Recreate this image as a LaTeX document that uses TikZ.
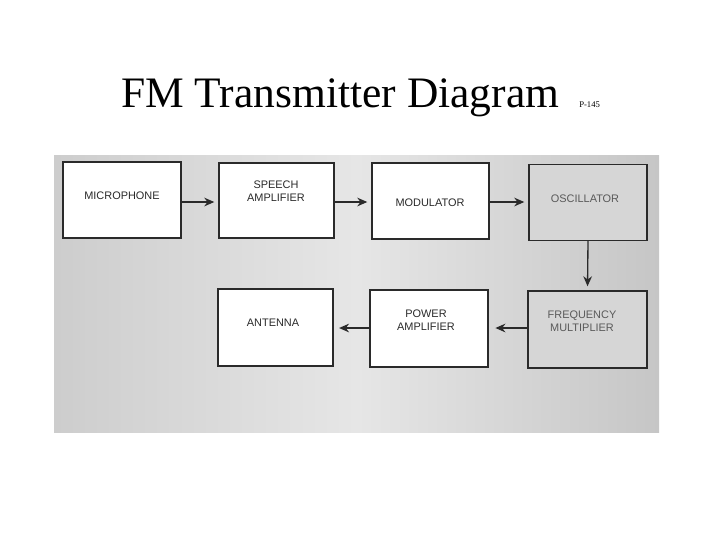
\documentclass[tikz,border=0pt]{standalone}
\usepackage{fontspec}
\setmainfont{Liberation Serif}
\newfontfamily\boxfont{Liberation Sans}
\usetikzlibrary{arrows.meta,calc}
\definecolor{scanL}{HTML}{CDCDCD}
\definecolor{scanM}{HTML}{E6E6E6}
\definecolor{scanR}{HTML}{C6C6C6}
\definecolor{boxgrey}{HTML}{D6D6D6}
\definecolor{inkc}{HTML}{2A2A2A}
\tikzset{
  blk/.style={draw=inkc, line width=1.1pt, fill=white, inner sep=0pt},
  gblk/.style={blk, fill=boxgrey},
  lbl/.style={font=\boxfont\fontsize{8.2pt}{9.6pt}\selectfont, text=inkc, align=center, inner sep=0pt},
  glbl/.style={lbl, text=black!65},
  conn/.style={draw=inkc, line width=1pt, -{Stealth[length=7.5pt,width=6.5pt]}, shorten >=3pt},
}
\begin{document}
\begin{tikzpicture}[x=0.75pt,y=-0.75pt]
\useasboundingbox (0,0) rectangle (720,540);
% scanned background
\shade[left color=scanL, right color=scanR, middle color=scanM] (54,155) rectangle (659,432);
% title
\node[anchor=base west, inner sep=0pt, font=\fontsize{32.6pt}{38pt}\selectfont] (title) at (121,107.5) {FM Transmitter Diagram};
\node[anchor=base west, inner sep=0pt, font=\fontsize{6.5pt}{8pt}\selectfont] (page) at (579,107) {P-145};
% boxes
\node[blk, minimum width=88.5pt, minimum height=57pt] (mic) at (122,200) {};
\node[blk, minimum width=86.25pt, minimum height=56.25pt] (spk) at (276.5,200.5) {};
\node[blk, minimum width=87.75pt, minimum height=57pt] (mod) at (430.5,201) {};
\node[gblk, minimum width=88.5pt, minimum height=57pt] (osc) at (588,202.5) {};
\node[gblk, minimum width=89.25pt, minimum height=57.75pt] (frq) at (587.5,329.5) {};
\node[blk, minimum width=88.5pt, minimum height=57.75pt] (pwr) at (429,328.5) {};
\node[blk, minimum width=86.25pt, minimum height=57.75pt] (ant) at (275.5,327.5) {};
% texts
\node[lbl] (micT) at (122,196) {MICROPHONE};
\node[lbl] (spkT) at (276,191.5) {SPEECH\\AMPLIFIER};
\node[lbl] (modT) at (430,202.5) {MODULATOR};
\node[glbl] (oscT) at (585,199) {OSCILLATOR};
\node[glbl] (frqT) at (582,321) {FREQUENCY\\MULTIPLIER};
\node[lbl] (pwrT) at (426,320) {POWER\\AMPLIFIER};
\node[lbl] (antT) at (273,323) {ANTENNA};
% connectors
\draw[conn] ($(mic.east)+(0,2)$) -- ($(spk.west)+(0,1.5)$);
\draw[conn] ($(spk.east)+(0,1.5)$) -- ($(mod.west)+(0,1)$);
\draw[conn] ($(mod.east)+(0,1)$) -- ($(osc.west)+(0,-0.5)$);
\draw[conn] (osc.south) -- (frq.north);
\draw[conn, shorten >=5pt] ($(frq.west)+(0,-1.5)$) -- ($(pwr.east)+(0,-0.5)$);
\draw[conn, shorten >=4pt] ($(pwr.west)+(0,-0.5)$) -- ($(ant.east)+(0,0.5)$);
\end{tikzpicture}
\end{document}
